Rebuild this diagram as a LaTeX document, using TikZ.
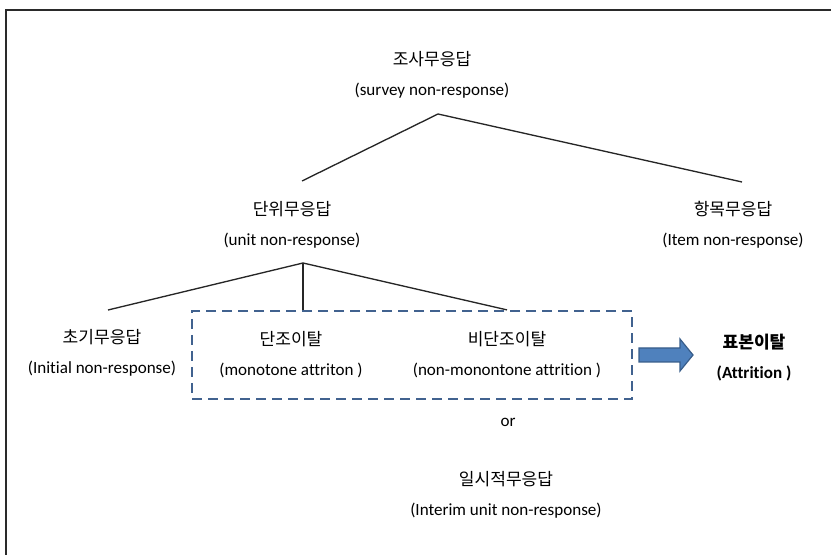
\documentclass[tikz,border=0pt]{standalone}
\usepackage{fontspec}
\setmainfont{Carlito}[Ligatures={NoCommon}]
\newfontfamily\kr{Noto Sans CJK KR}
\definecolor{dashblue}{HTML}{41628F}
\definecolor{arrfill}{HTML}{4F81BD}
\definecolor{arrdraw}{HTML}{385D8A}
\definecolor{framegray}{HTML}{2A2A2A}
\newcommand\ko[1]{{\kr\fontsize{12.8}{22.5}\selectfont #1}}
\tikzset{
  lab/.style={align=center, inner sep=0pt, text=black, font=\fontsize{12.8}{22.5}\selectfont},
  tree/.style={line width=1pt, draw=black!85},
  framel/.style={line width=1.5pt, draw=framegray},
  groupbox/.style={draw=dashblue, line width=1.65pt, dash pattern=on 7.5pt off 4.5pt,
    minimum width=330pt, minimum height=66pt, inner sep=0pt},
  blockarrow/.style={fill=arrfill, draw=arrdraw, line width=0.9pt, line join=miter}
}
\begin{document}
\begin{tikzpicture}[x=0.75pt,y=-0.75pt]
\useasboundingbox (0,0) rectangle (831,555);
\draw[framel] (6,555) -- (6,10) -- (831,10);

\node[groupbox] (grp) at (412,355) {};

\node[lab] (survey) at (432,74.5) {\ko{조사무응답}\\(survey non-response)};
\node[lab] (unit) at (292,225) {\ko{단위무응답}\\(unit non-response)};
\node[lab] (item) at (733,225) {\ko{항목무응답}\\(Item non-response)};
\node[lab] (initial) at (102,353) {\ko{초기무응답}\\(Initial non-response)};
\node[lab] (mono) at (291,354.5) {\ko{단조이탈}\\(monotone attriton )};
\node[lab] (nonmono) at (507,354.5) {\ko{비단조이탈}\\(non-monontone attrition )};
\node[lab, font=\bfseries\fontsize{12.8}{22.5}\selectfont] (attr) at (754,358) {\ko{표본이탈}\\(Attrition )};
\node[lab] (or) at (508,422) {or};
\node[lab] (interim) at (506,495) {\ko{일시적무응답}\\(Interim unit non-response)};

\draw[blockarrow] (639,348) -- (680,348) -- (680,339) -- (693,355)
  -- (680,371) -- (680,362) -- (639,362) -- cycle;

\coordinate (t1) at (438,114);
\coordinate (unitend) at (302,181);
\coordinate (itemend) at (742,182);
\coordinate (t2) at (303,263);
\coordinate (initend) at (108,310);

\draw[tree] (unitend) -- (t1) -- (itemend);
\draw[tree] (initend) -- (t2) -- (grp.north -| nonmono);
\draw[tree] (t2) -- (grp.north -| t2);
\end{tikzpicture}
\end{document}
